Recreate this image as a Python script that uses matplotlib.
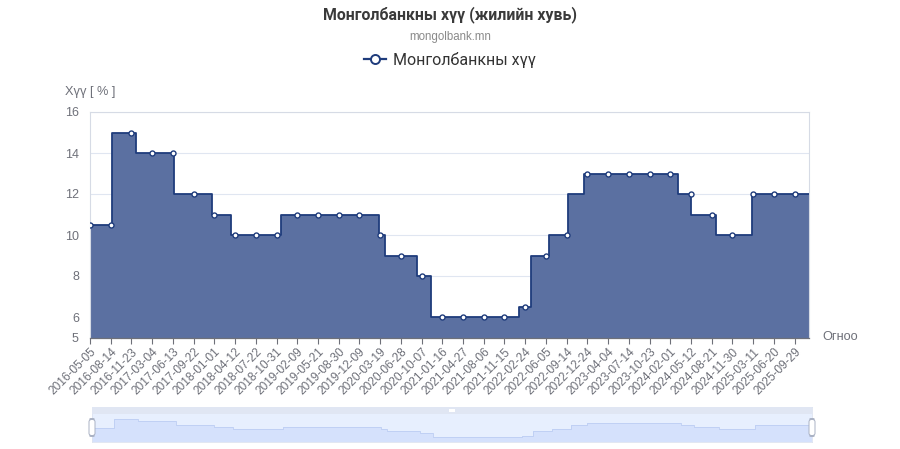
import numpy as np
import pandas as pd
import matplotlib
matplotlib.use('Agg')
import matplotlib.pyplot as plt
import matplotlib.dates as mdates
from matplotlib.lines import Line2D
from matplotlib.patches import FancyBboxPatch, Rectangle

plt.rcParams['font.family'] = ['Liberation Sans', 'DejaVu Sans']

# Монголбанкны бодлогын хүүгийн өөрчлөлтүүд (графикаас уншсан)
change_dates = ['2016-05-05', '2016-08-18', '2016-12-16', '2017-06-16', '2017-12-22',
                '2018-03-22', '2018-11-22', '2020-03-11', '2020-04-11', '2020-09-15',
                '2020-11-20', '2022-01-27', '2022-03-22', '2022-06-21', '2022-09-22',
                '2022-12-07', '2024-03-12', '2024-05-14', '2024-09-11', '2025-03-06']
rates = [10.5, 15, 14, 12, 11, 10, 11, 10, 9, 8, 6, 6.5, 9, 10, 12, 13, 12, 11, 10, 12]
end_date = '2025-12-08'

# x тэнхлэгийн шошго
tick_labels = ['2016-05-05', '2016-08-14', '2016-11-23', '2017-03-04', '2017-06-13',
               '2017-09-22', '2018-01-01', '2018-04-12', '2018-07-22', '2018-10-31',
               '2019-02-09', '2019-05-21', '2019-08-30', '2019-12-09', '2020-03-19',
               '2020-06-28', '2020-10-07', '2021-01-16', '2021-04-27', '2021-08-06',
               '2021-11-15', '2022-02-24', '2022-06-05', '2022-09-14', '2022-12-24',
               '2023-04-04', '2023-07-14', '2023-10-23', '2024-02-01', '2024-05-12',
               '2024-08-21', '2024-11-30', '2025-03-11', '2025-06-20', '2025-09-29']
y_ticks = [5, 6, 8, 10, 12, 14, 16]

line_color = '#1f3c7c'
fill_color = '#5b70a1'
axis_text = '#6e7079'

dates = pd.to_datetime(change_dates + [end_date])
vals = np.array(rates + [rates[-1]])
xd = mdates.date2num(dates)
tick_x = mdates.date2num(pd.to_datetime(tick_labels))
# утгыг тэмдэглэгээний огноонд step функцээс авах
idx = np.searchsorted(xd[:-1], tick_x, side='right') - 1
tick_vals = np.array(rates)[idx]

W, H = 900, 449
fig = plt.figure(figsize=(9, 4.49), dpi=100)

ax = fig.add_axes([90 / W, 1 - 337.5 / H, (809 - 90) / W, (337.5 - 112) / H])
ax.fill_between(xd, vals, 5, step='post', color=fill_color, lw=0, zorder=2)
ax.step(xd, vals, where='post', color=line_color, lw=1.3, zorder=3)
ax.plot(tick_x, tick_vals, ls='none', marker='o', ms=3.6, mfc='white',
        mec=line_color, mew=1.0, zorder=4)

ax.set_xlim(xd[0], xd[-1])
ax.set_ylim(5, 16)
ax.set_yticks(y_ticks)
ax.set_yticklabels([str(v) for v in y_ticks], fontsize=9, color=axis_text)
ax.tick_params(axis='y', length=0, pad=8)
ax.grid(axis='y', color='#e0e6f1', lw=0.8, zorder=0)
ax.set_axisbelow(True)

ax.set_xticks(tick_x)
ax.set_xticklabels(tick_labels, rotation=45, ha='right', rotation_mode='anchor',
                   fontsize=8.6, color=axis_text)
ax.tick_params(axis='x', length=4, color=axis_text, width=0.8, pad=2)

for s in ['top', 'left', 'right']:
    ax.spines[s].set_color('#d6dbe5')
    ax.spines[s].set_linewidth(0.8)
ax.spines['bottom'].set_color(axis_text)
ax.spines['bottom'].set_linewidth(0.9)

# гарчиг
fig.text(0.5, 1 - 15 / H, 'Монголбанкны хүү (жилийн хувь)', ha='center', va='center',
         fontsize=11.4, fontweight='bold', color='#3a3a3a', family=['Roboto', 'DejaVu Sans'])
fig.text(0.5, 1 - 37 / H, 'mongolbank.mn', ha='center', va='center',
         fontsize=8.3, color='#8a8a8a')

handle = Line2D([], [], color=line_color, lw=1.6, marker='o', ms=6.5,
                mfc='white', mec=line_color, mew=1.4)
fig.legend([handle], ['Монголбанкны хүү'], loc='center', bbox_to_anchor=(0.5, 1 - 60 / H),
           frameon=False, handlelength=1.4, handletextpad=0.45,
           labelcolor='#333333', prop={'family': ['Roboto', 'DejaVu Sans'], 'size': 11.5})

fig.text(65 / W, 1 - 92 / H, 'Хүү [ % ]', ha='left', va='center', fontsize=9.2, color=axis_text)
fig.text(822 / W, 1 - 337 / H, 'Огноо', ha='left', va='center', fontsize=9.2, color=axis_text)

# доод гулсагч (dataZoom)
sl = fig.add_axes([92 / W, 1 - 442 / H, (812 - 92) / W, 35 / H])
sl.set_xlim(xd[0], xd[-1])
sl.set_ylim(3.26, 21.36)
sl.add_patch(Rectangle((0, 0), 1, 1, transform=sl.transAxes, color='#e7effe', lw=0, zorder=0))
sl.fill_between(xd, vals, 3.26, step='post', color='#d5e1fc', lw=0, zorder=1)
sl.step(xd, vals, where='post', color='#bccdf3', lw=0.6, zorder=2)
sl.add_patch(Rectangle((0, 0.8), 1, 0.2, transform=sl.transAxes, color='#e0e6f3', lw=0, zorder=3))
sl.set_xticks([])
sl.set_yticks([])
for s in sl.spines.values():
    s.set_color('#dde3f0')
    s.set_linewidth(0.6)

# бариулууд
for hx in (92, 812):
    fig.patches.append(FancyBboxPatch(((hx - 3) / W, 1 - 436 / H), 6 / W, 17 / H,
                                      boxstyle='round,pad=0,rounding_size=0.006',
                                      transform=fig.transFigure, fc='white',
                                      ec='#aab2c4', lw=0.7, zorder=5))
fig.patches.append(Rectangle((449 / W, 1 - 412 / H), 6 / W, 3 / H, transform=fig.transFigure,
                             fc='white', ec='none', zorder=5))

fig.savefig('out.png', dpi=100, facecolor='white')
